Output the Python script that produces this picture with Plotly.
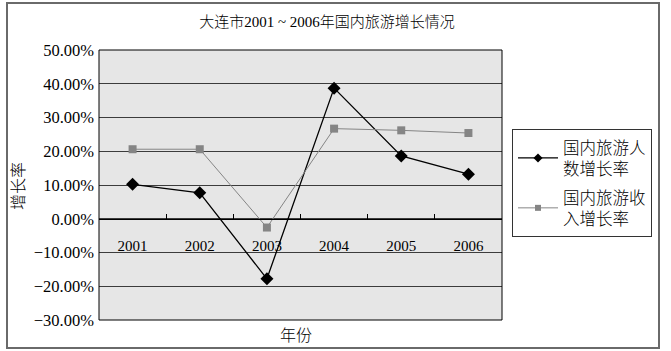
import plotly.graph_objects as go

years = ["2001", "2002", "2003", "2004", "2005", "2006"]
visitors_growth = [10.2, 7.7, -17.8, 38.7, 18.6, 13.2]
income_growth = [20.6, 20.6, -2.6, 26.7, 26.2, 25.4]
y_ticks = [50, 40, 30, 20, 10, 0, -10, -20, -30]
y_tick_labels = ["50.00%", "40.00%", "30.00%", "20.00%", "10.00%", "0.00%",
                 "−10.00%", "−20.00%", "−30.00%"]
series_names = ["国内旅游人<br>数增长率", "国内旅游收<br>入增长率"]

FONT = "Liberation Serif, Noto Sans CJK SC, serif"
C1, C2 = "black", "#858585"

fig = go.Figure()
fig.add_trace(go.Scatter(
    x=years, y=visitors_growth, mode="lines+markers", showlegend=False,
    line=dict(color=C1, width=1.3),
    marker=dict(symbol="diamond", size=10, color=C1),
))
fig.add_trace(go.Scatter(
    x=years, y=income_growth, mode="lines+markers", showlegend=False,
    line=dict(color=C2, width=1),
    marker=dict(symbol="square", size=8, color=C2),
))
# legend entries (smaller symbols as in the reference)
fig.add_trace(go.Scatter(
    x=[None], y=[None], mode="lines+markers", name=series_names[0], legendgroup="a",
    line=dict(color=C1, width=1.3), marker=dict(symbol="diamond", size=7, color=C1),
))
fig.add_trace(go.Scatter(
    x=[None], y=[None], mode="lines+markers", name=series_names[1], legendgroup="b",
    line=dict(color=C2, width=1), marker=dict(symbol="square", size=6, color=C2),
))

W, H = 671, 351
L, R, T, B = 99, 502, 50, 320

def f(size):
    return dict(size=size, family=FONT, weight=300, color="black")

fig.update_layout(
    width=W, height=H,
    margin=dict(l=L, r=W - R, t=T, b=H - B, pad=0),
    paper_bgcolor="white",
    plot_bgcolor="#e6e6e6",
    font=f(14),
    title=dict(text="大连市2001 ~ 2006年国内旅游增长情况", x=327 / W, xanchor="center",
               y=1 - 22 / H, yanchor="middle", font=f(15)),
    showlegend=True,
    legend=dict(x=(512 - L) / (R - L), xanchor="left", y=1 - (129 - T) / (B - T), yanchor="top",
                bordercolor="#333", borderwidth=1, bgcolor="white",
                font=f(16.5), tracegroupgap=4, itemwidth=40),
    xaxis=dict(
        type="category", range=[-0.5, 5.5], tickson="boundaries",
        ticks="inside", ticklen=5, tickcolor="black",
        showline=True, linecolor="black", linewidth=1,
        showgrid=False, anchor="free", position=30 / 80,
        ticklabelstandoff=13, tickfont=f(15),
        fixedrange=True,
    ),
    yaxis=dict(
        range=[-30, 50], tickvals=y_ticks, ticktext=y_tick_labels,
        showgrid=True, gridcolor="#3c3c3c", gridwidth=1,
        zeroline=False, ticks="", showline=False,
        tickfont=f(16.5), ticklabelstandoff=4,
    ),
    shapes=[
        dict(type="rect", xref="paper", yref="paper", x0=0, x1=1, y0=0, y1=1,
             line=dict(color="black", width=1), layer="above", fillcolor="rgba(0,0,0,0)"),
        dict(type="rect", xref="paper", yref="paper",
             x0=(7 - L) / (R - L), x1=(659 - L) / (R - L),
             y0=1 - (348 - T) / (B - T), y1=1 - (3 - T) / (B - T),
             line=dict(color="#6a6a6a", width=2), layer="below"),
    ],
    annotations=[
        dict(text="年份", xref="paper", yref="paper", x=0.49, y=1 - (335 - T) / (B - T),
             showarrow=False, font=f(16), yanchor="middle"),
        dict(text="增长率", xref="paper", yref="paper", x=(18 - L) / (R - L),
             y=1 - (186 - T) / (B - T), textangle=-90, showarrow=False,
             font=f(16), xanchor="center", yanchor="middle"),
    ],
)

fig.write_html("out.html")
